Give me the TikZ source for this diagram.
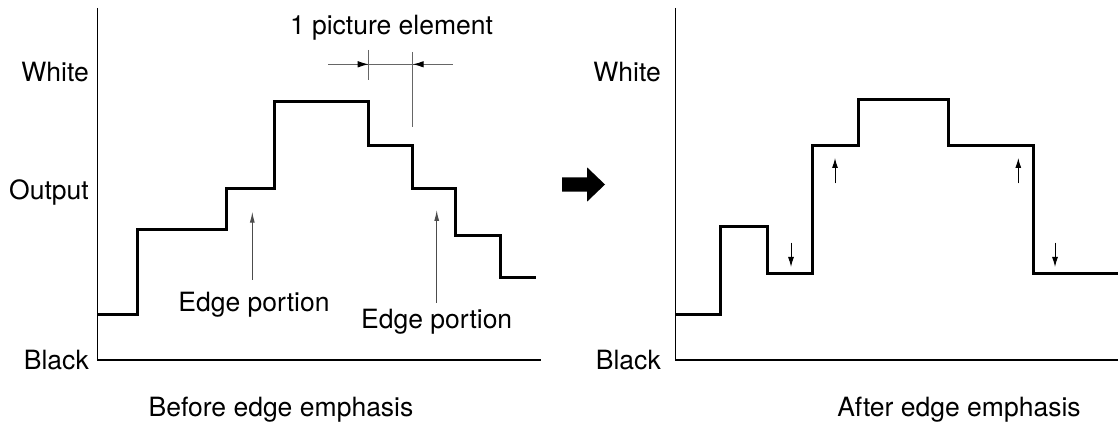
\documentclass[tikz,border=0pt]{standalone}
\usepackage{fontspec}
\setmainfont{TeX Gyre Heros}
\usetikzlibrary{arrows.meta}
\begin{document}
\begin{tikzpicture}[x=1pt,y=-1pt,
  lbl/.style={font=\fontsize{26.5}{30}\selectfont, inner sep=0pt},
  axis/.style={line width=1.3pt, black},
  curve/.style={line width=3pt, black, line join=miter},
  thin/.style={line width=1pt, black!60},
  petip/.style={line width=1pt, black!60, -{Latex[length=11pt,width=6.5pt, color=black]}},
  edgearrow/.style={line width=1pt, black!70, -{Latex[length=11pt,width=5pt]}},
  smallarrow/.style={line width=1pt, black, -{Latex[length=10pt,width=6pt]}},
]
\useasboundingbox (0,0) rectangle (1118,427);
% ---- left plot
\draw[axis] (97.3,8) -- (97.3,360) -- (541,360);
\draw[curve] (97.3,315) -- (137.7,315) -- (137.7,230) -- (226.7,230) -- (226.7,189)
  -- (274.3,189) -- (274.3,101.7) -- (368.7,101.7) -- (368.7,146) -- (412.7,146)
  -- (412.7,189) -- (455.7,189) -- (455.7,235.7) -- (500.7,235.7) -- (500.7,277.3) -- (536,277.3);
\node[lbl, anchor=east] (w1) at (89,72) {White};
\node[lbl, anchor=east] (o1) at (89,192) {Output};
\node[lbl, anchor=east] (b1) at (89,360) {Black};
% picture element
\node[lbl] (pe) at (391.5,28) {1 picture element};
\coordinate (vl) at (368.7,64.3);
\coordinate (vr) at (412.7,64.3);
\draw[thin] (368.7,50) -- (368.7,80);
\draw[thin] (412.7,52) -- (412.7,127);
\draw[thin] (328,64.3) -- (453,64.3);
\draw[petip] (350,64.3) -- (vl);
\draw[petip] (431,64.3) -- (vr);
% edge portions
\node[lbl] (e1) at (254,305) {Edge portion};
\node[lbl] (e2) at (436.7,322) {Edge portion};
\coordinate (t1) at (252.3,211.7);
\coordinate (t2) at (436.7,210);
\draw[edgearrow] (252.3,280) -- (t1);
\draw[edgearrow] (436.7,303) -- (t2);
\node[lbl] (c1) at (281,410) {Before edge emphasis};
% ---- big arrow
\fill (562,177.3) -- (587,177.3) -- (587,167.3) -- (605,184.5) -- (587,201.7) -- (587,191.7) -- (562,191.7) -- cycle;
% ---- right plot
\draw[axis] (675.7,8) -- (675.7,360) -- (1118,360);
\draw[curve] (675.7,314.7) -- (720.3,314.7) -- (720.3,226.7) -- (767.7,226.7) -- (767.7,274)
  -- (812.7,274) -- (812.7,146) -- (858.7,146) -- (858.7,100) -- (948.3,100) -- (948.3,146)
  -- (1033.3,146) -- (1033.3,274) -- (1118,274);
\node[lbl, anchor=east] (w2) at (661,72) {White};
\node[lbl, anchor=east] (b2) at (661,360) {Black};
\coordinate (d1) at (791,267);
\coordinate (u1) at (835,158);
\coordinate (u2) at (1018.3,158);
\coordinate (d2) at (1055,267);
\draw[smallarrow] (791,242.7) -- (d1);
\draw[smallarrow] (835,183.3) -- (u1);
\draw[smallarrow] (1018.3,183.3) -- (u2);
\draw[smallarrow] (1055,242.7) -- (d2);
\node[lbl] (c2) at (959,410) {After edge emphasis};
\end{tikzpicture}
\end{document}
